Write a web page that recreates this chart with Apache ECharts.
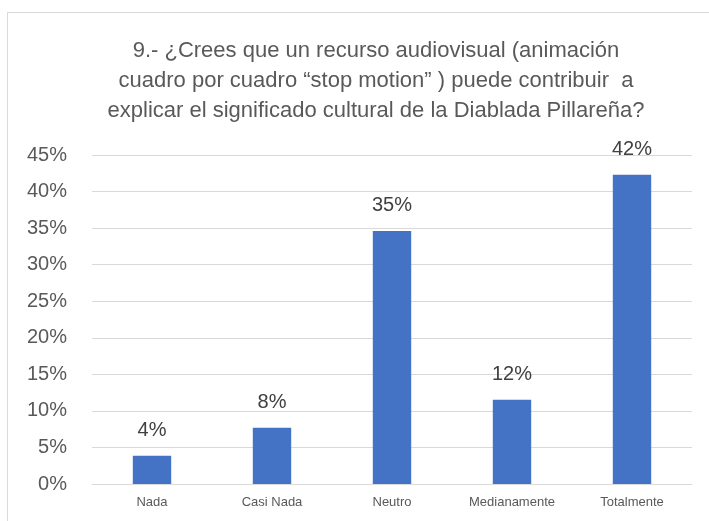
<!DOCTYPE html>
<html>
<head>
<meta charset="utf-8">
<script src="https://cdn.jsdelivr.net/npm/echarts@6/dist/echarts.min.js"></script>
<style>
* { margin: 0; padding: 0; }
body { background: #fff; overflow: hidden; }
#chart { width: 709px; height: 521px; }
</style>
</head>
<body>
<div id="chart"></div>
<script>
// respuestas (porcentaje)
const categories = ['Nada', 'Casi Nada', 'Neutro', 'Medianamente', 'Totalmente']
const values = [3.85, 7.69, 34.62, 11.54, 42.31]
const titleLines = [
  '9.- ¿Crees que un recurso audiovisual (animación',
  'cuadro por cuadro \u201cstop motion\u201d ) puede contribuir  a',
  'explicar el significado cultural de la Diablada Pillareña?'
]

const chart = echarts.init(document.getElementById('chart'))
chart.setOption({
  backgroundColor: '#fff',
  animation: false,
  title: {
    text: titleLines.join('\n'),
    left: 371,
    top: 31,
    textAlign: 'center',
    textStyle: {
      fontFamily: 'Liberation Sans',
      fontSize: 22,
      fontWeight: 'normal',
      color: '#595959',
      lineHeight: 30
    }
  },
  graphic: [{
    type: 'rect',
    shape: { x: 7.5, y: 12.5, width: 730, height: 540 },
    style: { fill: 'none', stroke: '#d9d9d9', lineWidth: 1 },
    silent: true
  }],
  grid: { left: 92, right: 17, top: 155, bottom: 37 },
  xAxis: {
    type: 'category',
    data: categories,
    axisLine: { lineStyle: { color: '#d9d9d9' } },
    axisTick: { show: false },
    axisLabel: { color: '#595959', fontSize: 13, margin: 12, fontFamily: 'Liberation Sans' }
  },
  yAxis: {
    type: 'value',
    min: 0,
    max: 45,
    interval: 5,
    axisLine: { show: false },
    axisTick: { show: false },
    axisLabel: { color: '#595959', fontSize: 20, margin: 25, formatter: '{value}%', fontFamily: 'Liberation Sans' },
    splitLine: { lineStyle: { color: '#d9d9d9', width: 1 } }
  },
  series: [{
    type: 'bar',
    data: values,
    barWidth: '32%',
    itemStyle: { color: '#4472c4' },
    label: {
      show: true,
      position: 'top',
      distance: 15,
      color: '#404040',
      fontSize: 20,
      fontFamily: 'Liberation Sans',
      formatter: p => Math.round(p.value) + '%'
    }
  }]
})
</script>
</body>
</html>
